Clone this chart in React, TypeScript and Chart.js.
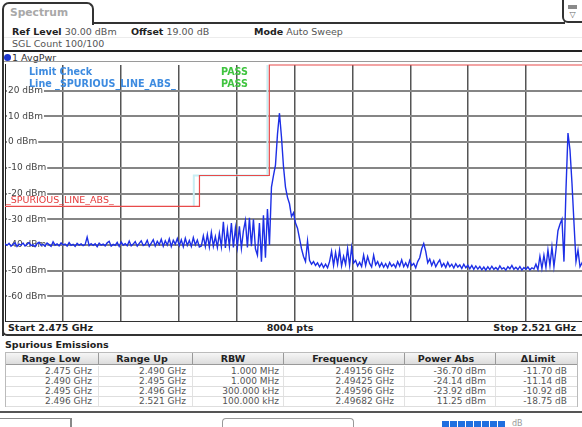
import React, { useEffect, useRef } from "react";
import { Chart, registerables } from "chart.js";
Chart.register(...registerables);

// ---------------- data ----------------
const startMHz = 2475;
const stopMHz = 2521;
const gridDivisions = 10;
const yMinDbm = -70;
const yMaxDbm = 30;

// averaged power trace (evenly spaced sweep points from start to stop)
const tracePower = [
  -39.6, -40.2, -39.4, -40.5, -39.8, -39.2, -40.6, -39.7, -40.1, -39.3,
  -40.4, -39.8, -39.1, -40.3, -39.9, -40.7, -39.5, -39.0, -40.2, -39.8,
  -40.5, -39.3, -39.9, -40.6, -38.8, -40.1, -39.6, -40.4, -39.2, -40.0,
  -39.7, -40.5, -39.1, -40.2, -39.8, -40.6, -39.4, -40.1, -39.6, -40.3,
  -39.9, -37.0, -40.3, -39.5, -40.2, -39.6, -40.7, -39.3, -40.1, -39.7,
  -40.4, -39.2, -38.6, -40.5, -39.8, -40.2, -39.0, -40.6, -38.9, -40.1,
  -39.5, -40.3, -38.5, -40.4, -39.7, -38.7, -40.5, -39.4, -38.4, -40.2,
  -39.8, -38.2, -40.6, -39.3, -38.0, -40.4, -38.6, -39.9, -37.8, -40.5,
  -38.4, -40.1, -37.6, -40.6, -38.2, -39.7, -37.5, -40.3, -38.0, -40.7,
  -37.4, -40.2, -38.3, -40.6, -37.2, -40.0, -38.1, -40.8,
  -40.4, -36.5, -40.6, -36.0, -40.8, -35.2, -40.5, -36.8, -41.0, -35.5,
  -40.7, -31.0, -41.2, -34.0, -40.6, -31.5, -41.0, -33.5, -40.8, -32.8,
  -41.3, -34.5, -30.5, -41.0, -29.5, -40.5, -30.0, -41.5,
  -44.0, -31.5, -46.5, -28.5, -45.0, -26.0, -40.0,
  -17.5, -13.0, -9.0, 3.0, 11.25, 2.0, -9.5, -17.5, -21.5, -24.0,
  -29.0, -27.5, -31.5, -33.5, -37.5, -41.5, -44.5, -46.5, -38.5, -46.0,
  -47.5, -46.5, -48.0,
  -47.0, -48.5, -47.2, -48.8, -47.5, -48.9, -46.5, -42.5, -48.0, -43.0,
  -47.5, -42.0, -48.2, -44.5, -47.6, -41.5, -48.0, -41.0, -47.0, -46.0,
  -48.2, -46.8, -48.4, -44.0, -48.0, -44.5, -47.2, -48.6, -44.0, -47.8,
  -46.5, -48.5, -47.0, -48.7, -47.3, -48.9, -46.8, -48.3, -47.5, -48.8,
  -46.5, -48.2, -45.8, -48.5, -47.0, -48.6, -46.0, -48.0, -47.2, -48.9,
  -46.5, -45.0, -41.5, -39.5, -42.5, -47.0, -45.5, -48.0, -46.2, -48.5,
  -47.0, -45.8, -48.4, -47.2, -48.8, -46.8, -48.5, -47.5, -49.0, -47.3,
  -48.6, -47.8, -49.2, -47.5, -48.9, -47.9, -49.3, -48.0, -49.5, -48.2,
  -49.4, -48.4, -49.7, -48.6, -49.8, -48.5, -49.6, -48.3, -49.5, -48.8,
  -49.7, -48.2, -49.4, -48.9, -49.8, -48.5, -49.3, -48.0, -49.5, -48.7,
  -49.6, -48.4, -49.8, -48.8, -49.5, -48.6, -49.7, -48.9, -49.4, -47.5,
  -49.6, -44.5, -49.2, -44.0, -48.8,
  -42.0, -48.0, -40.8, -48.5, -42.0, -34.5, -32.0, -30.0, -46.5, -18.7,
  3.5, -3.0, -16.0, -31.5, -46.5, -42.0, -48.5, -47.0, -48.8,
];

// limit line _SPURIOUS_LINE_ABS_
const limitFreqMHz = [2475, 2490.45, 2490.45, 2496, 2496, 2521];
const limitDbm = [-25, -25, -13, -13, 30, 30];
// faint range boundary markers
const rangeMarkFreqMHz = [2490, 2490, 2495.85, 2495.85];
const rangeMarkDbm = [-25, -13, -13, 30];

// table
const tableHeaders = ["Range Low", "Range Up", "RBW", "Frequency", "Power Abs", "\u0394Limit"];
const rangeLow = ["2.475 GHz", "2.490 GHz", "2.495 GHz", "2.496 GHz"];
const rangeUp = ["2.490 GHz", "2.495 GHz", "2.496 GHz", "2.521 GHz"];
const rbw = ["1.000 MHz", "1.000 MHz", "300.000 kHz", "100.000 kHz"];
const peakFreq = ["2.49156 GHz", "2.49425 GHz", "2.49596 GHz", "2.49682 GHz"];
const powerAbs = ["-36.70 dBm", "-24.14 dBm", "-23.92 dBm", "11.25 dBm"];
const deltaLimit = ["-11.70 dB", "-11.14 dB", "-10.92 dB", "-18.75 dB"];

// ---------------- layout helpers ----------------
const FONT = '"DejaVu Sans", Verdana, sans-serif';

function Txt(props: any) {
  const { x, y, children, size = 9.5, bold = false, color = "#222", align = "left" } = props;
  const style: any = {
    position: "absolute",
    top: y,
    fontFamily: FONT,
    fontSize: size,
    fontWeight: bold ? "bold" : "normal",
    color,
    whiteSpace: "nowrap",
    lineHeight: 1,
    transform: "translateY(-50%)",
  };
  if (align === "left") style.left = x;
  else if (align === "right") style.right = 582 - x;
  else {
    style.left = x;
    style.transform = "translate(-50%,-50%)";
  }
  return <div style={style}>{children}</div>;
}

function Box(props: any) {
  const { x, y, w, h, style } = props;
  return <div style={{ position: "absolute", left: x, top: y, width: w, height: h, boxSizing: "border-box", ...style }} />;
}

function Plot() {
  const ref = useRef<HTMLCanvasElement | null>(null);
  useEffect(() => {
    const n = tracePower.length;
    const traceData = tracePower.map((v, i) => ({ x: startMHz + (i * (stopMHz - startMHz)) / (n - 1), y: v }));
    const limitData = limitFreqMHz.map((f, i) => ({ x: f, y: limitDbm[i] }));
    const markData = rangeMarkFreqMHz.map((f, i) => ({ x: f, y: rangeMarkDbm[i] }));
    const gridFreqs: number[] = [];
    for (let k = 0; k <= gridDivisions; k++) gridFreqs.push(startMHz + (k * (stopMHz - startMHz)) / gridDivisions);

    const chart = new Chart(ref.current as HTMLCanvasElement, {
      type: "line",
      data: {
        datasets: [
          { data: traceData, borderColor: "#1d2fe6", borderWidth: 1.4, pointRadius: 0, tension: 0, order: 0 },
          { data: limitData, borderColor: "#e84a4a", borderWidth: 1.2, pointRadius: 0, tension: 0, order: 1, clip: 4 },
          { data: markData, borderColor: "#c8eef3", borderWidth: 2, pointRadius: 0, tension: 0, order: 2, clip: 4 },
        ],
      },
      options: {
        animation: false,
        responsive: false,
        devicePixelRatio: 1,
        layout: { padding: { top: 4, left: 0, right: 0, bottom: 0 }, autoPadding: false },
        plugins: { legend: { display: false }, tooltip: { enabled: false } },
        scales: {
          x: {
            type: "linear",
            min: startMHz,
            max: stopMHz,
            afterBuildTicks: (s: any) => {
              s.ticks = gridFreqs.map((v) => ({ value: v }));
            },
            afterFit: (s: any) => {
              s.height = 0;
              s.paddingLeft = 0;
              s.paddingRight = 0;
            },
            ticks: { display: false },
            grid: { color: "#555", lineWidth: 1.5, drawTicks: false },
            border: { display: true, color: "#333", width: 2 },
          },
          y: {
            type: "linear",
            min: yMinDbm,
            max: yMaxDbm,
            afterFit: (s: any) => {
              s.width = 0;
              s.paddingTop = 0;
              s.paddingBottom = 0;
            },
            ticks: {
              stepSize: 10,
              mirror: true,
              padding: 3,
              color: "#444",
              font: { family: FONT, size: 9 },
              showLabelBackdrop: true,
              backdropColor: "#ffffff",
              backdropPadding: { top: 0, bottom: 0, left: 1, right: 1 },
              callback: (v: any) => (v === yMaxDbm || v === yMinDbm ? null : `${v} dBm`),
            },
            grid: {
              color: (c: any) => (c.tick && c.tick.value === yMaxDbm ? "rgba(0,0,0,0)" : "#858585"),
              lineWidth: 2,
              drawTicks: false,
            },
            border: { display: true, color: "#222", width: 2 },
          },
        },
      },
    } as any);
    return () => chart.destroy();
  }, []);
  return (
    <canvas
      ref={ref}
      width={579}
      height={261}
      style={{ position: "absolute", left: 5, top: 61, width: 579, height: 261 }}
    />
  );
}

export default function App() {
  const colLeft = [5, 98, 192, 283, 404, 495, 578];
  const headerCenters = [51, 142, 233, 340, 446, 538];
  const valueRights = [92, 186, 279, 394, 486, 567];
  const rowYs = [371, 381, 391, 401];
  const columns = [rangeLow, rangeUp, rbw, peakFreq, powerAbs, deltaLimit];

  return (
    <div
      style={{
        position: "fixed",
        left: 0,
        top: 0,
        width: 582,
        height: 427,
        overflow: "hidden",
        background: "#fff",
        fontFamily: FONT,
      }}
    >
      {/* tab */}
      <Box x={2} y={2} w={92} h={23} style={{ border: "2px solid #333", borderBottom: "none", borderRadius: "7px 7px 0 0", background: "#fff" }} />
      <Txt x={10} y={13} size={10.7} bold color="#a8a8a8">Spectrum</Txt>
      <Box x={93} y={22} w={472} h={2} style={{ background: "#333" }} />
      {/* right icon */}
      <Box x={562} y={0} w={24} h={23} style={{ border: "2px solid #333", borderTop: "none", borderRadius: "0 0 0 6px", background: "#fff" }} />
      <Box x={568} y={5} w={9} h={4} style={{ background: "#8a8a8a" }} />
      <Txt x={572.5} y={15} size={8} color="#666" align="center">{"\u25BD"}</Txt>

      {/* header */}
      <Box x={2} y={24} w={2} h={312} style={{ background: "#333" }} />
      <Txt x={12} y={32} color="#222"><b>Ref Level</b> <span style={{ color: "#555" }}>30.00 dBm</span></Txt>
      <Txt x={131} y={32} color="#222"><b>Offset</b> <span style={{ color: "#555" }}>19.00 dB</span></Txt>
      <Txt x={254} y={32} color="#222"><b>Mode</b> <span style={{ color: "#555" }}>Auto Sweep</span></Txt>
      <Box x={4} y={37} w={578} h={1} style={{ background: "#ececec" }} />
      <Txt x={12} y={44} color="#555">SGL Count 100/100</Txt>
      <Box x={2} y={50} w={580} h={2} style={{ background: "#222" }} />

      {/* trace label */}
      <Box x={4} y={54} w={7} h={7} style={{ borderRadius: "50%", background: "#1a33cc" }} />
      <Txt x={12} y={57.5} color="#333">1 AvgPwr</Txt>

      <Plot />
      <Box x={4} y={61} w={578} h={1} style={{ background: "#9a9a9a" }} />

      {/* plot overlays */}
      <Txt x={29} y={72} size={9.6} bold color="#3d8be0">Limit Check</Txt>
      <Txt x={29} y={84} size={9.6} bold color="#3d8be0">Line _SPURIOUS_LINE_ABS_</Txt>
      <Txt x={221} y={72} size={9.6} bold color="#3fc43f">PASS</Txt>
      <Txt x={221} y={84} size={9.6} bold color="#3fc43f">PASS</Txt>
      <Txt x={6} y={200} size={9.5} color="#e43c3c">_SPURIOUS_LINE_ABS_</Txt>

      {/* footer of diagram */}
      <Txt x={8} y={328} bold color="#222">Start 2.475 GHz</Txt>
      <Txt x={290} y={328} bold color="#222" align="center">8004 pts</Txt>
      <Txt x={576} y={328} bold color="#222" align="right">Stop 2.521 GHz</Txt>
      <Box x={2} y={322} w={8} h={14} style={{ borderLeft: "2px solid #333", borderBottom: "2px solid #333", borderRadius: "0 0 0 5px" }} />
      <Box x={8} y={334} w={574} h={2} style={{ background: "#333" }} />

      {/* spurious emissions table */}
      <Txt x={5} y={345} bold color="#222">Spurious Emissions</Txt>
      <Box x={5} y={352} w={573} h={13} style={{ background: "linear-gradient(#f6f6f6,#dcdcdc)", borderTop: "1px solid #bbb", borderBottom: "1px solid #999" }} />
      {tableHeaders.map((h, i) => (
        <Txt key={"h" + i} x={headerCenters[i]} y={359} bold color="#222" align="center">{h}</Txt>
      ))}
      {colLeft.slice(1, 6).map((x, i) => (
        <Box key={"d" + i} x={x} y={353} w={1} h={12} style={{ background: "#999" }} />
      ))}
      {colLeft.slice(1, 6).map((x, i) => (
        <Box key={"e" + i} x={x} y={366} w={1} h={40} style={{ background: "#e2e2e2" }} />
      ))}
      {rowYs.map((y, r) => (
        <Box key={"r" + r} x={5} y={y + 5} w={573} h={1} style={{ background: "#dedede" }} />
      ))}
      <Box x={5} y={352} w={1} h={55} style={{ background: "#bbb" }} />
      <Box x={577} y={352} w={1} h={55} style={{ background: "#bbb" }} />
      {columns.map((col, c) =>
        col.map((v, r) => (
          <Txt key={"v" + c + "_" + r} x={valueRights[c]} y={rowYs[r]} size={9} color="#555" align="right">{v}</Txt>
        ))
      )}
      <Box x={0} y={411} w={582} h={2} style={{ background: "#555" }} />

      {/* bottom bar */}
      <Box x={0} y={418} w={72} h={10} style={{ borderTop: "1px solid #888", borderRight: "2px solid #888" }} />
      <Box x={222} y={418} w={132} h={10} style={{ border: "1px solid #999", borderBottom: "none", borderRadius: "4px 4px 0 0" }} />
      {[0, 1, 2, 3, 4, 5, 6, 7].map((k) => (
        <Box key={"p" + k} x={442 + k * 8} y={421} w={7} h={6} style={{ background: "#1f6fe0" }} />
      ))}
      <Txt x={512} y={424} size={8} color="#999">dB</Txt>
    </div>
  );
}
